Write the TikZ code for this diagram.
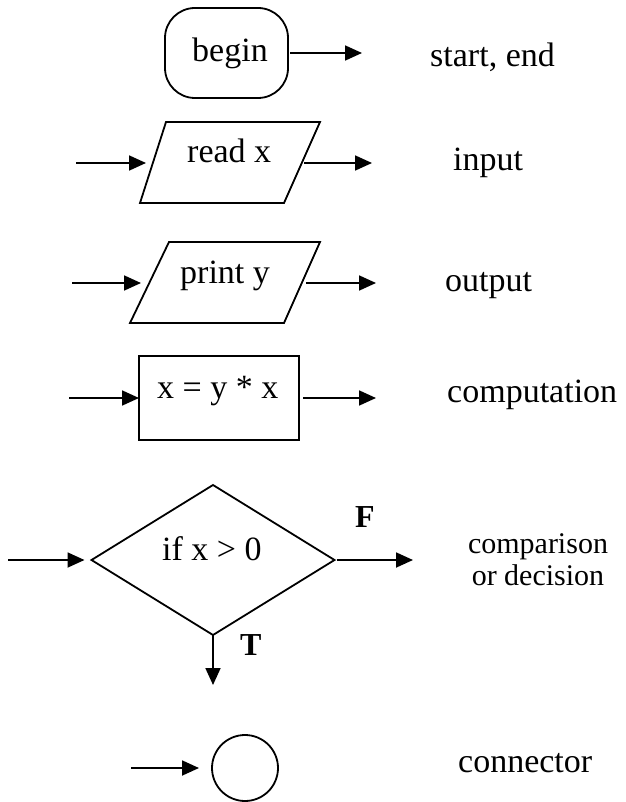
\documentclass[tikz,border=0pt]{standalone}
\usepackage{fontspec}
\setmainfont{Liberation Serif}
\usetikzlibrary{arrows.meta,shapes.geometric}
\begin{document}
\begin{tikzpicture}[x=1pt,y=-1pt,
  shapeline/.style={draw, line width=1.8pt, inner sep=0pt, outer sep=0pt},
  conn/.style={line width=1.8pt, -{Triangle[length=17pt,width=15pt]}},
  lbl/.style={inner sep=0pt, anchor=base west, font=\fontsize{34}{40}\selectfont},
  smalllbl/.style={inner sep=0pt, align=center, font=\fontsize{30}{32}\selectfont},
  boldlbl/.style={inner sep=0pt, anchor=base west, font=\fontsize{32}{40}\selectfont\bfseries}]
\useasboundingbox (0,0) rectangle (625,802);

% start / end
\node[shapeline, rounded corners=30pt, minimum width=123pt, minimum height=90pt] (beginbox) at (226.5,53) {};
\node[lbl] (tbegin) at (192,62) {begin};
\coordinate (bout) at (362,53);
\draw[conn] ([xshift=2pt]beginbox.east) -- (bout);
\node[lbl] (tstart) at (430,67) {start, end};

% input
\coordinate (r1) at (166,122);
\coordinate (r2) at (320,122);
\coordinate (r3) at (284,203);
\coordinate (r4) at (140,203);
\draw[line width=1.8pt, line join=miter] (r1) -- (r2) -- (r3) -- (r4) -- cycle;
\node[lbl] (tread) at (187,163) {read x};
\coordinate (rin0) at (76,163);
\coordinate (rin1) at (146,163);
\coordinate (rout0) at (304,163);
\coordinate (rout1) at (372,163);
\draw[conn] (rin0) -- (rin1);
\draw[conn] (rout0) -- (rout1);
\node[lbl] (tinput) at (453,171) {input};

% output
\coordinate (p1) at (169,242);
\coordinate (p2) at (320,242);
\coordinate (p3) at (284,323);
\coordinate (p4) at (130,323);
\draw[line width=1.8pt, line join=miter] (p1) -- (p2) -- (p3) -- (p4) -- cycle;
\node[lbl] (tprint) at (180,283) {print y};
\coordinate (pin0) at (72,283);
\coordinate (pin1) at (141,283);
\coordinate (pout0) at (306,283);
\coordinate (pout1) at (376,283);
\draw[conn] (pin0) -- (pin1);
\draw[conn] (pout0) -- (pout1);
\node[lbl] (toutput) at (445,291) {output};

% computation
\node[shapeline, rectangle, minimum width=160pt, minimum height=84pt] (comp) at (219,398) {};
\node[lbl] (tcomp) at (157,398) {x = y * x};
\coordinate (cin0) at (69,398);
\coordinate (cout1) at (376,398);
\draw[conn] (cin0) -- (comp.west);
\draw[conn] ([xshift=4pt]comp.east) -- (cout1);
\node[lbl] (tcomputation) at (447,402) {computation};

% decision
\node[shapeline, diamond, minimum width=243pt, minimum height=150pt] (dec) at (213,560) {};
\node[lbl] (tif) at (162,560) {if x > 0};
\coordinate (din0) at (8,560);
\coordinate (dout1) at (413,560);
\coordinate (ddown) at (213,685);
\draw[conn] (din0) -- ([xshift=-7pt]dec.west);
\draw[conn] ([xshift=2pt]dec.east) -- (dout1);
\draw[conn] (dec.south) -- (ddown);
\node[boldlbl] (tF) at (355,527) {F};
\node[boldlbl] (tT) at (240,655) {T};
\node[smalllbl, anchor=base] (tcmp) at (538,585) {comparison\\or decision};

% connector
\node[shapeline, circle, minimum size=66pt] (cnode) at (245,768) {};
\coordinate (kin0) at (131,768);
\draw[conn] (kin0) -- ([xshift=-13pt]cnode.west);
\node[lbl] (tconnector) at (458,772) {connector};
\end{tikzpicture}
\end{document}
